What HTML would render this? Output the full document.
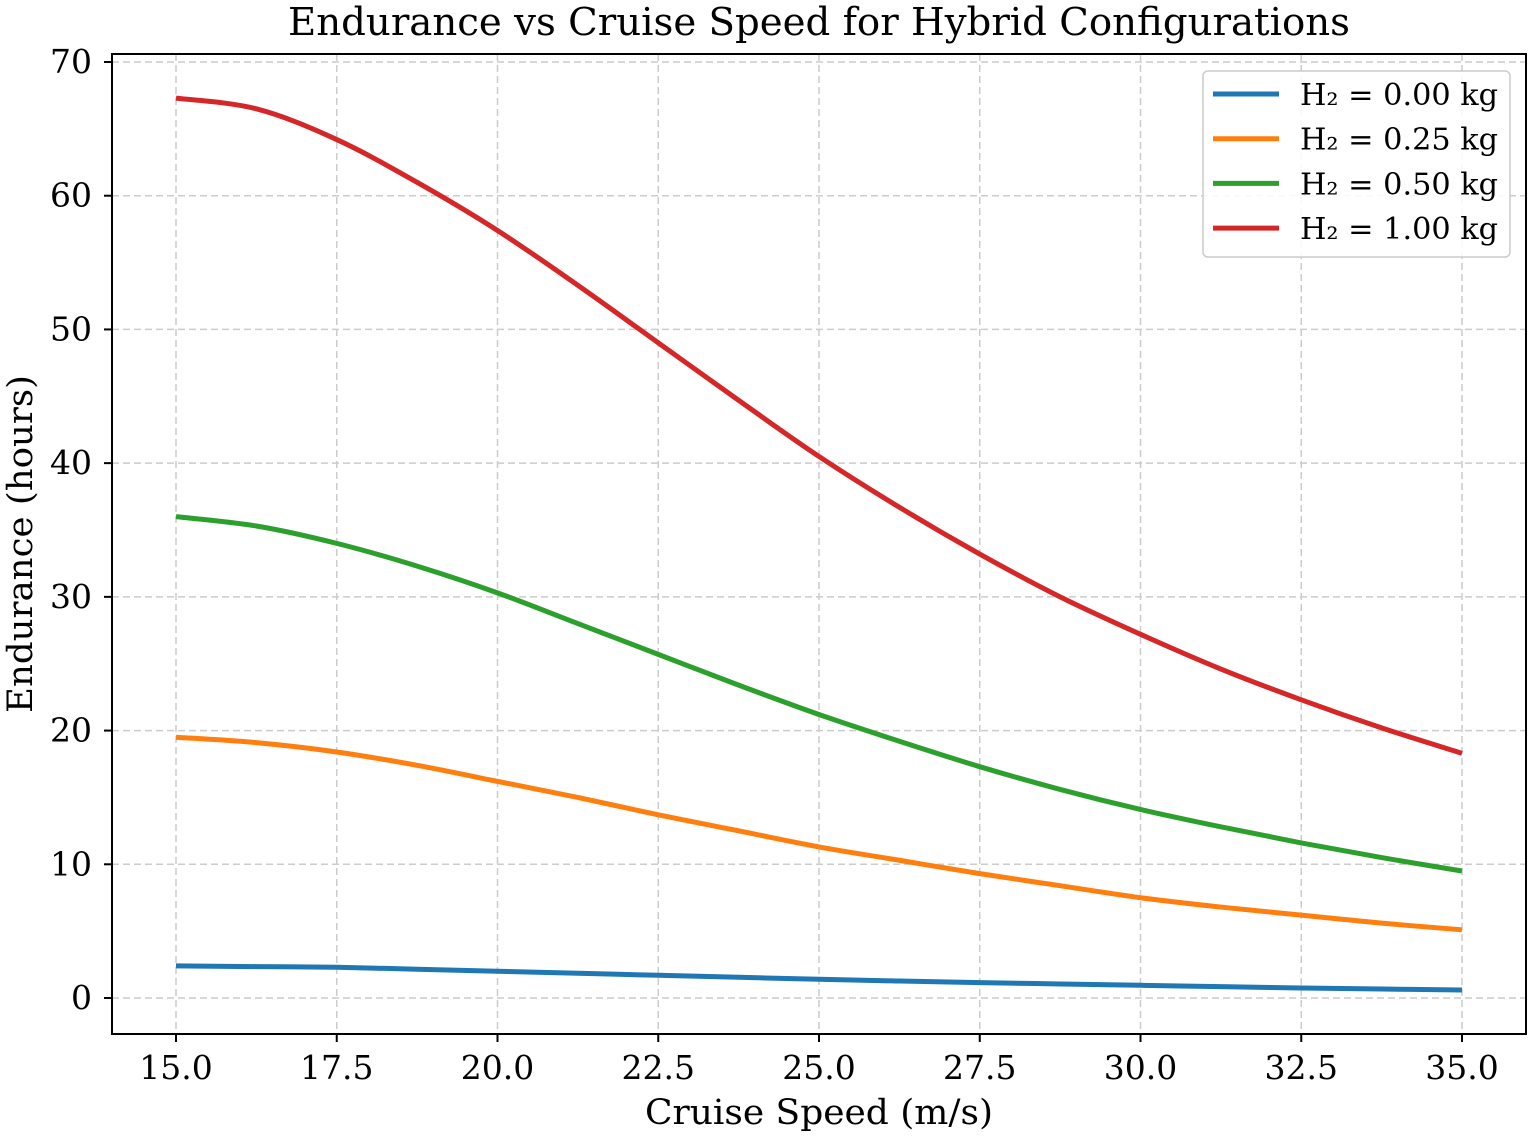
<!DOCTYPE html>
<html><head><meta charset="utf-8">
<style>
html,body{margin:0;padding:0;background:#fff;}
svg{display:block;font-family:"DejaVu Serif","Liberation Serif",serif;}
</style></head>
<body>
<svg id="chart" width="1530" height="1138" viewBox="0 0 1530 1138">
<text x="819" y="35" font-size="38" text-anchor="middle" fill="#000" textLength="1062" lengthAdjust="spacingAndGlyphs">Endurance vs Cruise Speed for Hybrid Configurations</text>
<g id="grid"></g>
<g id="series"></g>
<rect x="112" y="54" width="1414" height="980" fill="none" stroke="#000" stroke-width="2"/>
<g id="ticks"></g>
<text x="819" y="1124" font-size="35" text-anchor="middle" textLength="348" lengthAdjust="spacingAndGlyphs">Cruise Speed (m/s)</text>
<text transform="translate(32,544) rotate(-90)" font-size="35" text-anchor="middle" textLength="338" lengthAdjust="spacingAndGlyphs">Endurance (hours)</text>
<g id="legend">
<rect x="1203" y="71" width="307" height="186" rx="5" fill="#fff" fill-opacity="0.85" stroke="#ccc" stroke-width="1.5"/>
</g>
</svg>
<script>
const speeds=[15,16.25,17.5,18.75,20,21.25,22.5,23.75,25,26.25,27.5,28.75,30,31.25,32.5,33.75,35];
const h2_000=[2.4,2.35,2.3,2.15,2.0,1.85,1.7,1.55,1.4,1.27,1.15,1.05,0.95,0.85,0.75,0.67,0.6];
const h2_025=[19.5,19.1,18.4,17.4,16.2,15.0,13.7,12.5,11.3,10.3,9.3,8.4,7.5,6.8,6.2,5.6,5.1];
const h2_050=[36,35.3,34,32.3,30.3,28.0,25.7,23.4,21.2,19.2,17.3,15.6,14.1,12.8,11.6,10.5,9.5];
const h2_100=[67.3,66.5,64.2,61.0,57.4,53.3,49,44.7,40.5,36.7,33.2,30.0,27.2,24.6,22.3,20.2,18.3];
const seriesLabels=["H₂ = 0.00 kg","H₂ = 0.25 kg","H₂ = 0.50 kg","H₂ = 1.00 kg"];
const xTicks=["15.0","17.5","20.0","22.5","25.0","27.5","30.0","32.5","35.0"];
const yTicks=[0,10,20,30,40,50,60,70];

const NS="http://www.w3.org/2000/svg";
const xs=v=>176+(v-15)*(1462-176)/20;
const ys=v=>998-v*(998-62)/70;
function mk(t,a,p){const e=document.createElementNS(NS,t);for(const k in a)e.setAttribute(k,a[k]);p.appendChild(e);return e;}
const grid=document.getElementById('grid'),ticks=document.getElementById('ticks');
xTicks.forEach(t=>{const x=xs(parseFloat(t));
 const g=mk('line',{x1:x,x2:x,y1:54,y2:1034,stroke:'#ccc','stroke-dasharray':'7,4','stroke-width':1.5},grid);
 
 
 const tk=mk('line',{x1:x,x2:x,y1:1034,y2:1042,stroke:'#000','stroke-width':2},ticks);
 
 
 const tx=mk('text',{x:x,y:1079,'font-size':33,'text-anchor':'middle'},ticks);tx.textContent=t;
 
 
});
yTicks.forEach(v=>{const y=ys(v);
 const g=mk('line',{x1:112,x2:1526,y1:y,y2:y,stroke:'#ccc','stroke-dasharray':'7,4','stroke-width':1.5},grid);
 
 
 const tk=mk('line',{x1:104,x2:112,y1:y,y2:y,stroke:'#000','stroke-width':2},ticks);
 
 
 const tx=mk('text',{x:92,y:y+11,'font-size':33,'text-anchor':'end'},ticks);tx.textContent=v;
 
 
});
function smooth(xv,yv){const p=xv.map((x,i)=>[xs(x),ys(yv[i])]);let d=`M${p[0][0]},${p[0][1]}`;
 for(let i=0;i<p.length-1;i++){const p0=p[Math.max(0,i-1)],p1=p[i],p2=p[i+1],p3=p[Math.min(p.length-1,i+2)];
 d+=` C${p1[0]+(p2[0]-p0[0])/6},${p1[1]+(p2[1]-p0[1])/6} ${p2[0]-(p3[0]-p1[0])/6},${p2[1]-(p3[1]-p1[1])/6} ${p2[0]},${p2[1]}`;}return d;}
const colors=['#1f77b4','#ff7f0e','#2ca02c','#d62728'];
const all=[h2_000,h2_025,h2_050,h2_100];
const sg=document.getElementById('series'),lg=document.getElementById('legend');
all.forEach((s,i)=>{
 const path=mk('path',{d:smooth(speeds,s),fill:'none',stroke:colors[i],'stroke-width':5},sg);
 
 
 const y=94+i*44.7;
 const ll=mk('line',{x1:1213,x2:1279,y1:y,y2:y,stroke:colors[i],'stroke-width':5},lg);
 
 
 const lt=mk('text',{x:1300,y:y+11,'font-size':30,textLength:198,lengthAdjust:'spacingAndGlyphs'},lg);lt.textContent=seriesLabels[i];
 
 
});
</script>
</body></html>
